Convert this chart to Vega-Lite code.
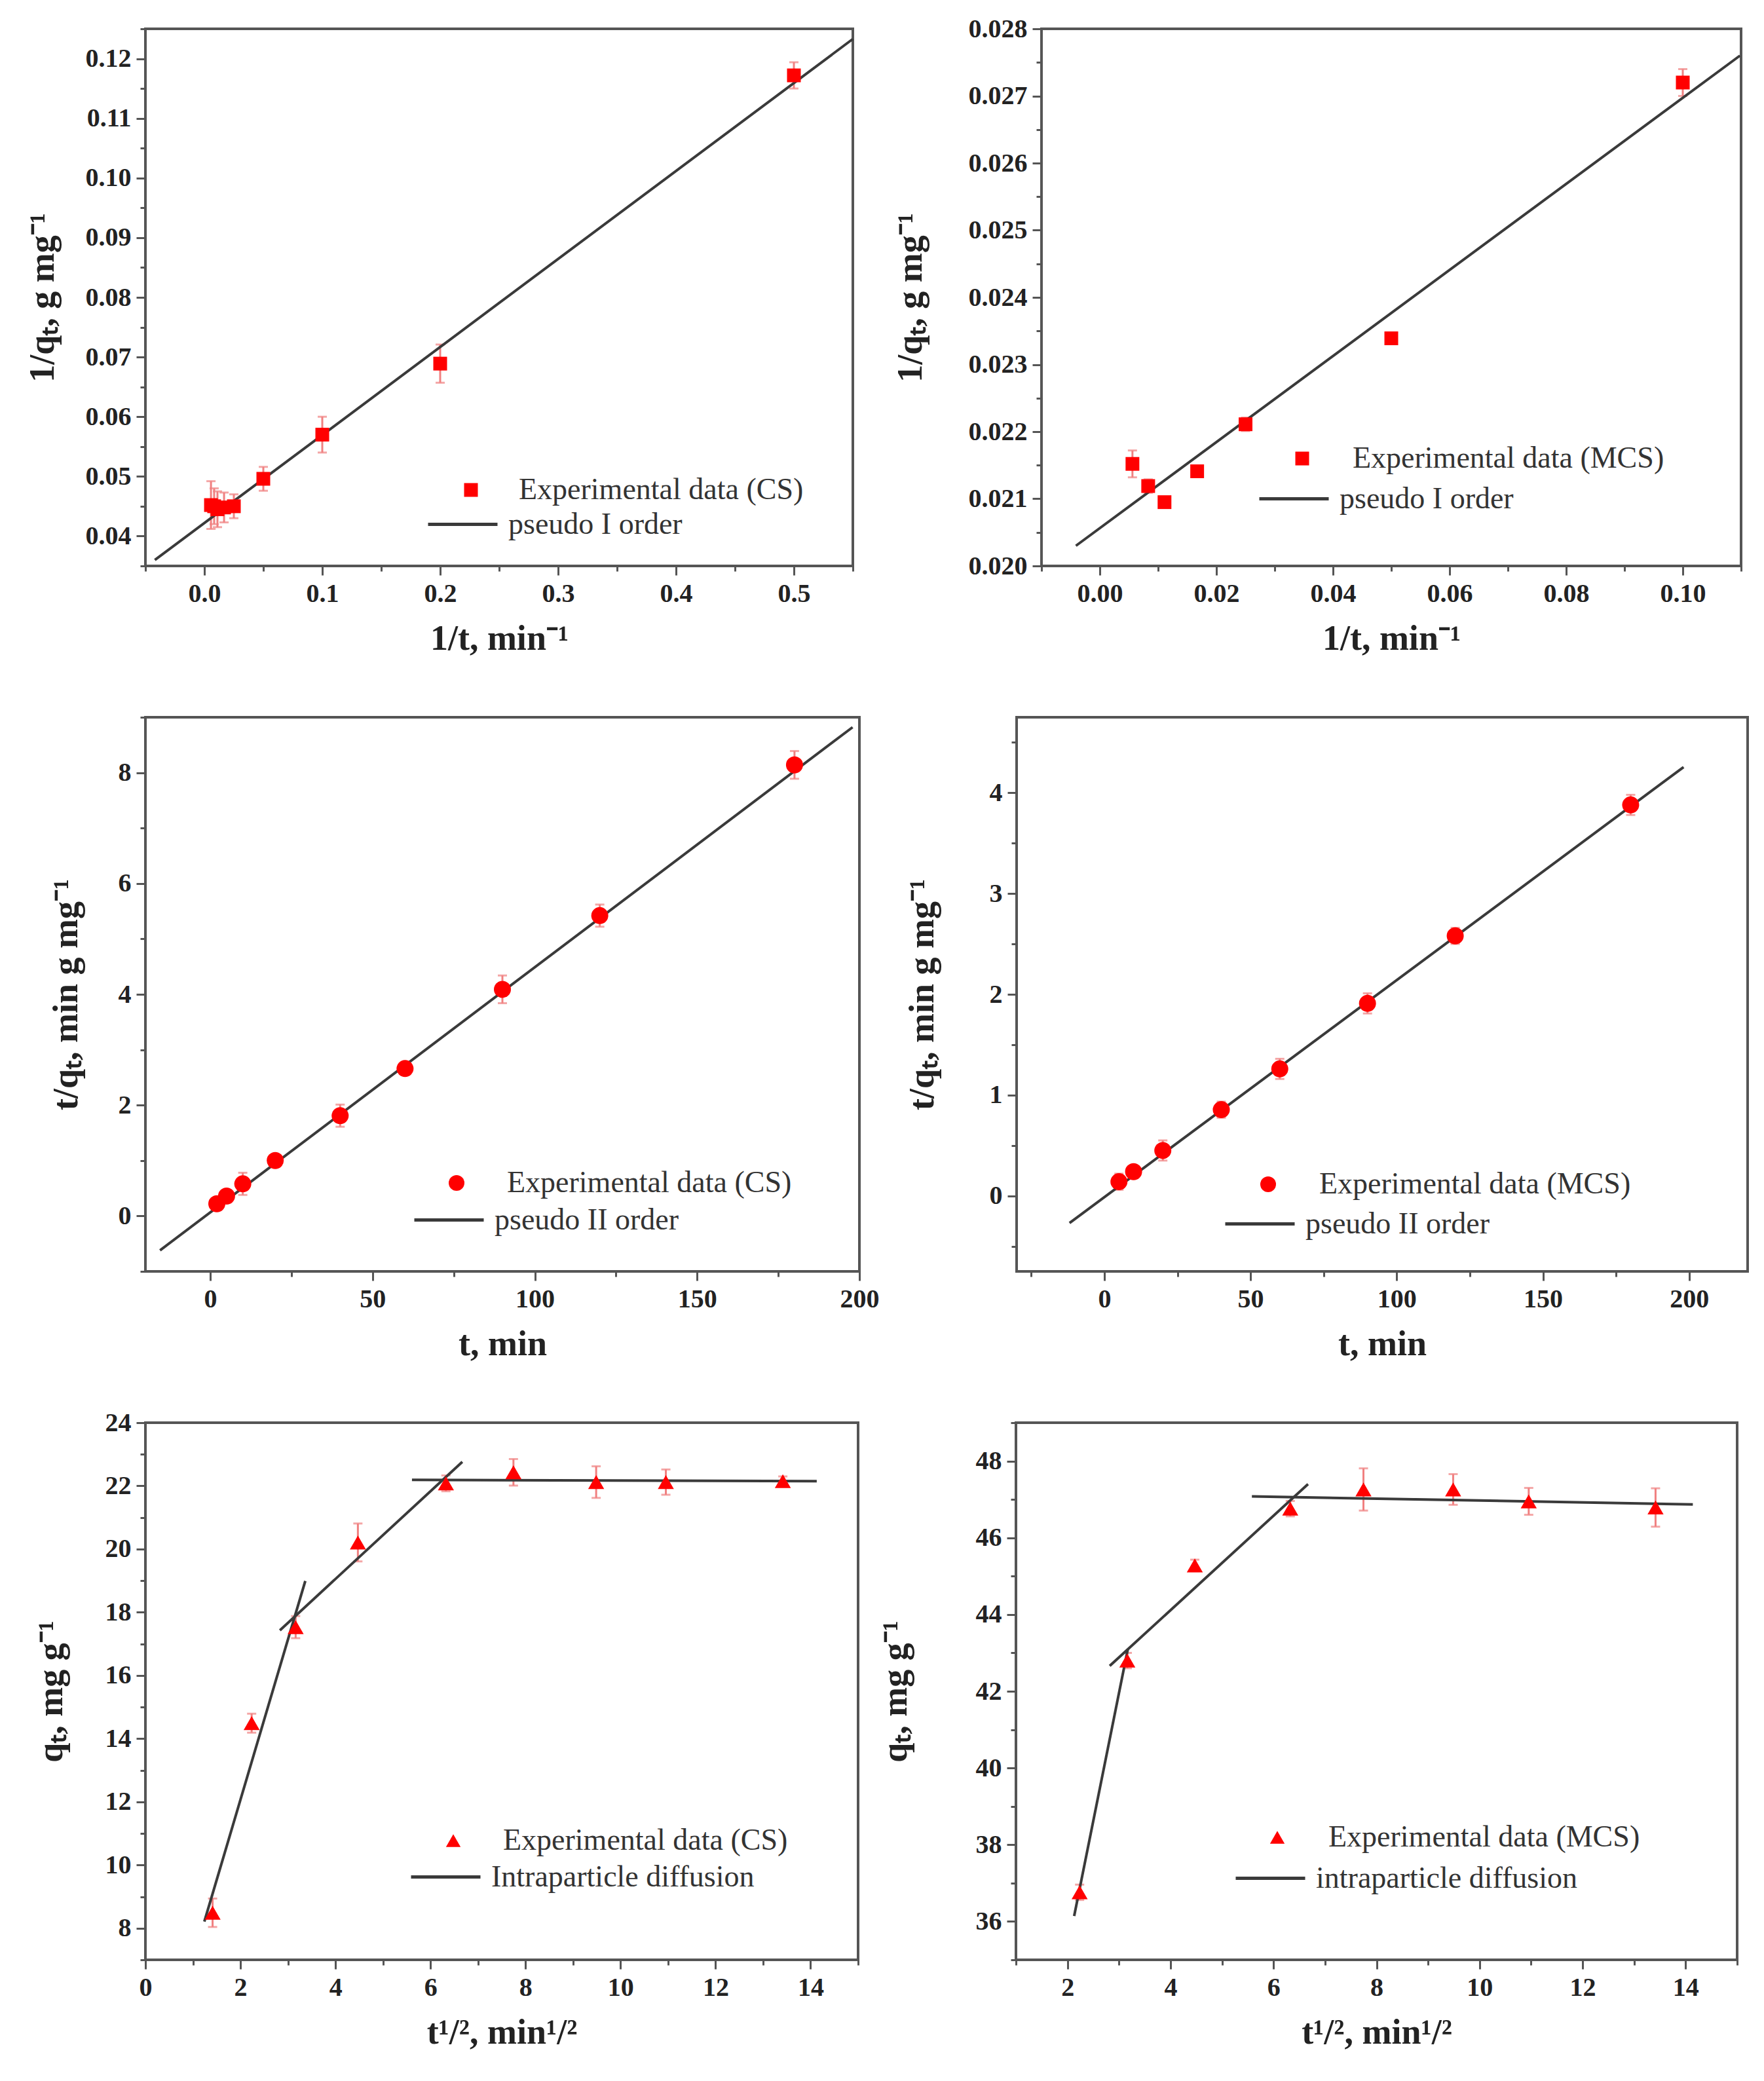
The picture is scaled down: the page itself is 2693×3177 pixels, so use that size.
{
  "$schema": "https://vega.github.io/schema/vega-lite/v6.json",
  "background": "white",
  "padding": {"left": 36, "top": 22, "right": 20, "bottom": 20},
  "config": {
    "view": {"stroke": "#555555", "strokeWidth": 4},
    "axis": {
      "domain": false, "grid": false,
      "labelFont": "Liberation Serif", "labelFontWeight": "bold", "labelFontSize": 40, "labelColor": "#222222",
      "labelFlush": false, "labelOverlap": false, "labelPadding": 8,
      "tickColor": "#555555", "tickWidth": 3,
      "titleFont": "Liberation Serif", "titleFontWeight": "bold", "titleFontSize": 54, "titleColor": "#222222"
    },
    "axisX": {"titlePadding": 22},
    "axisY": {"titlePadding": 38},
    "legend": {
      "orient": "none", "title": null, "padding": 0, "labelLimit": 2000,
      "labelFont": "Liberation Serif", "labelFontSize": 46, "labelColor": "#333333"
    }
  },
  "datasets": {
    "p1pts": [
      {"x": 0.5, "y": 0.1172, "err": 0.0022},
      {"x": 0.2, "y": 0.0689, "err": 0.0032},
      {"x": 0.1, "y": 0.0570, "err": 0.0030},
      {"x": 0.05, "y": 0.0496, "err": 0.0020},
      {"x": 0.025, "y": 0.0450, "err": 0.0020},
      {"x": 0.0167, "y": 0.0448, "err": 0.0025},
      {"x": 0.0111, "y": 0.0445, "err": 0.0030},
      {"x": 0.0083, "y": 0.0450, "err": 0.0030},
      {"x": 0.0056, "y": 0.0452, "err": 0.0040}
    ],
    "p1fit": [
      {"x": -0.042, "y": 0.0360, "seg": "a"},
      {"x": 0.55, "y": 0.1233, "seg": "a"}
    ],
    "p2pts": [
      {"x": 0.1, "y": 0.02720, "err": 0.00020},
      {"x": 0.05, "y": 0.02339, "err": 0.00008},
      {"x": 0.025, "y": 0.02211, "err": 0.00010},
      {"x": 0.0167, "y": 0.02141, "err": 0.00005},
      {"x": 0.0111, "y": 0.02095, "err": 0.00005},
      {"x": 0.0083, "y": 0.02119, "err": 0.00010},
      {"x": 0.0056, "y": 0.02152, "err": 0.00020}
    ],
    "p2fit": [
      {"x": -0.0041, "y": 0.0203, "seg": "a"},
      {"x": 0.1098, "y": 0.0276, "seg": "a"}
    ],
    "p3pts": [
      {"x": 2, "y": 0.22, "err": 0.06},
      {"x": 5, "y": 0.36, "err": 0.06},
      {"x": 10, "y": 0.58, "err": 0.2},
      {"x": 20, "y": 1.0, "err": 0.07},
      {"x": 40, "y": 1.81, "err": 0.2},
      {"x": 60, "y": 2.66, "err": 0.1},
      {"x": 90, "y": 4.09, "err": 0.25},
      {"x": 120, "y": 5.42, "err": 0.2},
      {"x": 180, "y": 8.14, "err": 0.25}
    ],
    "p3fit": [
      {"x": -15.5, "y": -0.62, "seg": "a"},
      {"x": 197.9, "y": 8.82, "seg": "a"}
    ],
    "p4pts": [
      {"x": 5, "y": 0.14, "err": 0.08},
      {"x": 10, "y": 0.24, "err": 0.05},
      {"x": 20, "y": 0.45, "err": 0.1},
      {"x": 40, "y": 0.855, "err": 0.08},
      {"x": 60, "y": 1.26, "err": 0.1},
      {"x": 90, "y": 1.91, "err": 0.1},
      {"x": 120, "y": 2.58, "err": 0.08},
      {"x": 180, "y": 3.88, "err": 0.1}
    ],
    "p4fit": [
      {"x": -11.9, "y": -0.27, "seg": "a"},
      {"x": 198.1, "y": 4.255, "seg": "a"}
    ],
    "p5pts": [
      {"x": 1.414, "y": 8.49, "err": 0.45},
      {"x": 2.236, "y": 14.49, "err": 0.3},
      {"x": 3.162, "y": 17.53, "err": 0.35},
      {"x": 4.472, "y": 20.21, "err": 0.6},
      {"x": 6.325, "y": 22.08, "err": 0.25},
      {"x": 7.746, "y": 22.43, "err": 0.42},
      {"x": 9.487, "y": 22.12, "err": 0.5},
      {"x": 10.954, "y": 22.12, "err": 0.4},
      {"x": 13.416, "y": 22.15, "err": 0.15}
    ],
    "p5fit": [
      {"x": 1.24, "y": 8.21, "seg": "a"},
      {"x": 3.365, "y": 18.99, "seg": "a"},
      {"x": 2.83, "y": 17.43, "seg": "b"},
      {"x": 6.67, "y": 22.76, "seg": "b"},
      {"x": 5.61, "y": 22.19, "seg": "c"},
      {"x": 14.13, "y": 22.15, "seg": "c"}
    ],
    "p6pts": [
      {"x": 2.236, "y": 36.76, "err": 0.2},
      {"x": 3.162, "y": 42.80, "err": 0.2},
      {"x": 4.472, "y": 45.28, "err": 0.15},
      {"x": 6.325, "y": 46.76, "err": 0.2},
      {"x": 7.746, "y": 47.26, "err": 0.55},
      {"x": 9.487, "y": 47.26, "err": 0.4},
      {"x": 10.954, "y": 46.95, "err": 0.35},
      {"x": 13.416, "y": 46.79, "err": 0.5}
    ],
    "p6fit": [
      {"x": 2.13, "y": 36.14, "seg": "a"},
      {"x": 3.17, "y": 43.09, "seg": "a"},
      {"x": 2.82, "y": 42.66, "seg": "b"},
      {"x": 6.67, "y": 47.40, "seg": "b"},
      {"x": 5.58, "y": 47.08, "seg": "c"},
      {"x": 14.14, "y": 46.87, "seg": "c"}
    ]
  },
  "spacing": 69,
  "resolve": {"scale": {"color": "independent", "stroke": "independent", "x": "independent", "y": "independent"}, "legend": {"color": "independent", "stroke": "independent"}},
  "vconcat": [
    {
      "spacing": 49,
      "resolve": {"scale": {"color": "independent", "stroke": "independent", "x": "independent", "y": "independent"}, "legend": {"color": "independent", "stroke": "independent"}},
      "hconcat": [
        {
          "width": 1080, "height": 820,
          "layer": [
            {
              "data": {"name": "p1pts"},
              "mark": {"type": "errorbar", "ticks": {"size": 14, "thickness": 3}, "thickness": 3, "color": "#f08080"},
              "encoding": {
                "x": {"field": "x", "type": "quantitative", "title": "1/t, min⁻¹",
                  "scale": {"domain": [-0.05, 0.55], "nice": false, "zero": false},
                  "axis": {"values": [-0.05, 0, 0.05, 0.1, 0.15, 0.2, 0.25, 0.3, 0.35, 0.4, 0.45, 0.5, 0.55], "format": ".1f",
                    "labelExpr": "round(datum.value*100)%10==0 ? datum.label : ''",
                    "tickSize": {"condition": {"test": "round(datum.value*100)%10==0", "value": 14}, "value": 8}}},
                "y": {"field": "y", "type": "quantitative", "title": "1/qₜ, g mg⁻¹",
                  "scale": {"domain": [0.035, 0.125], "nice": false, "zero": false},
                  "axis": {"values": [0.035, 0.04, 0.045, 0.05, 0.055, 0.06, 0.065, 0.07, 0.075, 0.08, 0.085, 0.09, 0.095, 0.1, 0.105, 0.11, 0.115, 0.12, 0.125], "format": ".2f",
                    "labelExpr": "round(datum.value*1000)%10==0 ? datum.label : ''",
                    "tickSize": {"condition": {"test": "round(datum.value*1000)%10==0", "value": 14}, "value": 8}}},
                "yError": {"field": "err"}
              }
            },
            {
              "data": {"name": "p1fit"},
              "mark": {"type": "line", "strokeWidth": 4},
              "encoding": {
                "x": {"field": "x", "type": "quantitative", "title": "1/t, min⁻¹"},
                "y": {"field": "y", "type": "quantitative", "title": "1/qₜ, g mg⁻¹"},
                "detail": {"field": "seg"},
                "stroke": {"datum": "pseudo I order", "type": "nominal", "scale": {"range": ["#3a3a3a"]},
                  "legend": {"legendX": 429, "legendY": 701, "symbolSize": 11236, "symbolStrokeWidth": 5, "labelOffset": 14}}
              }
            },
            {
              "data": {"name": "p1pts"},
              "mark": {"type": "point", "shape": "square", "filled": true, "size": 441, "opacity": 1},
              "encoding": {
                "x": {"field": "x", "type": "quantitative", "title": "1/t, min⁻¹"},
                "y": {"field": "y", "type": "quantitative", "title": "1/qₜ, g mg⁻¹"},
                "color": {"datum": "Experimental data (CS)", "type": "nominal", "scale": {"range": ["#ff0000"]},
                  "legend": {"legendX": 474, "legendY": 681, "symbolType": "square", "symbolSize": 441, "symbolOpacity": 1, "labelOffset": 50}}
              }
            }
          ]
        },
        {
          "width": 1068, "height": 820,
          "layer": [
            {
              "data": {"name": "p2pts"},
              "mark": {"type": "errorbar", "ticks": {"size": 14, "thickness": 3}, "thickness": 3, "color": "#f08080"},
              "encoding": {
                "x": {"field": "x", "type": "quantitative", "title": "1/t, min⁻¹",
                  "scale": {"domain": [-0.01, 0.11], "nice": false, "zero": false},
                  "axis": {"values": [-0.01, 0, 0.01, 0.02, 0.03, 0.04, 0.05, 0.06, 0.07, 0.08, 0.09, 0.1, 0.11], "format": ".2f",
                    "labelExpr": "round(datum.value*100)%2==0 ? datum.label : ''",
                    "tickSize": {"condition": {"test": "round(datum.value*100)%2==0", "value": 14}, "value": 8}}},
                "y": {"field": "y", "type": "quantitative", "title": "1/qₜ, g mg⁻¹",
                  "scale": {"domain": [0.02, 0.028], "nice": false, "zero": false},
                  "axis": {"values": [0.02, 0.0205, 0.021, 0.0215, 0.022, 0.0225, 0.023, 0.0235, 0.024, 0.0245, 0.025, 0.0255, 0.026, 0.0265, 0.027, 0.0275, 0.028], "format": ".3f", "titlePadding": 61,
                    "labelExpr": "round(datum.value*10000)%10==0 ? datum.label : ''",
                    "tickSize": {"condition": {"test": "round(datum.value*10000)%10==0", "value": 14}, "value": 8}}},
                "yError": {"field": "err"}
              }
            },
            {
              "data": {"name": "p2fit"},
              "mark": {"type": "line", "strokeWidth": 4},
              "encoding": {
                "x": {"field": "x", "type": "quantitative", "title": "1/t, min⁻¹"},
                "y": {"field": "y", "type": "quantitative", "title": "1/qₜ, g mg⁻¹"},
                "detail": {"field": "seg"},
                "stroke": {"datum": "pseudo I order", "type": "nominal", "scale": {"range": ["#3a3a3a"]},
                  "legend": {"legendX": 330, "legendY": 662, "symbolSize": 11236, "symbolStrokeWidth": 5, "labelOffset": 14}}
              }
            },
            {
              "data": {"name": "p2pts"},
              "mark": {"type": "point", "shape": "square", "filled": true, "size": 441, "opacity": 1},
              "encoding": {
                "x": {"field": "x", "type": "quantitative", "title": "1/t, min⁻¹"},
                "y": {"field": "y", "type": "quantitative", "title": "1/qₜ, g mg⁻¹"},
                "color": {"datum": "Experimental data (MCS)", "type": "nominal", "scale": {"range": ["#ff0000"]},
                  "legend": {"legendX": 375, "legendY": 633, "symbolType": "square", "symbolSize": 441, "symbolOpacity": 1, "labelOffset": 54}}
              }
            }
          ]
        }
      ]
    },
    {
      "spacing": 35,
      "resolve": {"scale": {"color": "independent", "stroke": "independent", "x": "independent", "y": "independent"}, "legend": {"color": "independent", "stroke": "independent"}},
      "hconcat": [
        {
          "width": 1090, "height": 846,
          "layer": [
            {
              "data": {"name": "p3pts"},
              "mark": {"type": "errorbar", "ticks": {"size": 14, "thickness": 3}, "thickness": 3, "color": "#f08080"},
              "encoding": {
                "x": {"field": "x", "type": "quantitative", "title": "t, min",
                  "scale": {"domain": [-20, 200], "nice": false, "zero": false},
                  "axis": {"values": [0, 25, 50, 75, 100, 125, 150, 175, 200], "format": "d",
                    "labelExpr": "datum.value%50==0 ? datum.label : ''",
                    "tickSize": {"condition": {"test": "datum.value%50==0", "value": 14}, "value": 8}}},
                "y": {"field": "y", "type": "quantitative", "title": "t/qₜ, min g mg⁻¹",
                  "scale": {"domain": [-1, 9], "nice": false, "zero": false},
                  "axis": {"values": [-1, 0, 1, 2, 3, 4, 5, 6, 7, 8, 9], "format": "d", "titlePadding": 52,
                    "labelExpr": "datum.value%2==0 ? datum.label : ''",
                    "tickSize": {"condition": {"test": "datum.value%2==0", "value": 14}, "value": 8}}},
                "yError": {"field": "err"}
              }
            },
            {
              "data": {"name": "p3fit"},
              "mark": {"type": "line", "strokeWidth": 4},
              "encoding": {
                "x": {"field": "x", "type": "quantitative", "title": "t, min"},
                "y": {"field": "y", "type": "quantitative", "title": "t/qₜ, min g mg⁻¹"},
                "detail": {"field": "seg"},
                "stroke": {"datum": "pseudo II order", "type": "nominal", "scale": {"range": ["#3a3a3a"]},
                  "legend": {"legendX": 408, "legendY": 712, "symbolSize": 11236, "symbolStrokeWidth": 5, "labelOffset": 14}}
              }
            },
            {
              "data": {"name": "p3pts"},
              "mark": {"type": "point", "shape": "circle", "filled": true, "size": 676, "opacity": 1},
              "encoding": {
                "x": {"field": "x", "type": "quantitative", "title": "t, min"},
                "y": {"field": "y", "type": "quantitative", "title": "t/qₜ, min g mg⁻¹"},
                "color": {"datum": "Experimental data (CS)", "type": "nominal", "scale": {"range": ["#ff0000"]},
                  "legend": {"legendX": 452, "legendY": 688, "symbolType": "circle", "symbolSize": 576, "symbolOpacity": 1, "labelOffset": 54}}
              }
            }
          ]
        },
        {
          "width": 1116, "height": 846,
          "layer": [
            {
              "data": {"name": "p4pts"},
              "mark": {"type": "errorbar", "ticks": {"size": 14, "thickness": 3}, "thickness": 3, "color": "#f08080"},
              "encoding": {
                "x": {"field": "x", "type": "quantitative", "title": "t, min",
                  "scale": {"domain": [-30, 220], "nice": false, "zero": false},
                  "axis": {"values": [-25, 0, 25, 50, 75, 100, 125, 150, 175, 200], "format": "d",
                    "labelExpr": "datum.value%50==0 ? datum.label : ''",
                    "tickSize": {"condition": {"test": "datum.value%50==0", "value": 14}, "value": 8}}},
                "y": {"field": "y", "type": "quantitative", "title": "t/qₜ, min g mg⁻¹",
                  "scale": {"domain": [-0.75, 4.75], "nice": false, "zero": false},
                  "axis": {"values": [-0.5, 0, 0.5, 1, 1.5, 2, 2.5, 3, 3.5, 4, 4.5], "titlePadding": 75,
                    "labelExpr": "datum.value%1==0 ? format(datum.value, 'd') : ''",
                    "tickSize": {"condition": {"test": "datum.value%1==0", "value": 14}, "value": 8}}},
                "yError": {"field": "err"}
              }
            },
            {
              "data": {"name": "p4fit"},
              "mark": {"type": "line", "strokeWidth": 4},
              "encoding": {
                "x": {"field": "x", "type": "quantitative", "title": "t, min"},
                "y": {"field": "y", "type": "quantitative", "title": "t/qₜ, min g mg⁻¹"},
                "detail": {"field": "seg"},
                "stroke": {"datum": "pseudo II order", "type": "nominal", "scale": {"range": ["#3a3a3a"]},
                  "legend": {"legendX": 316, "legendY": 718, "symbolSize": 11236, "symbolStrokeWidth": 5, "labelOffset": 14}}
              }
            },
            {
              "data": {"name": "p4pts"},
              "mark": {"type": "point", "shape": "circle", "filled": true, "size": 676, "opacity": 1},
              "encoding": {
                "x": {"field": "x", "type": "quantitative", "title": "t, min"},
                "y": {"field": "y", "type": "quantitative", "title": "t/qₜ, min g mg⁻¹"},
                "color": {"datum": "Experimental data (MCS)", "type": "nominal", "scale": {"range": ["#ff0000"]},
                  "legend": {"legendX": 361, "legendY": 690, "symbolType": "circle", "symbolSize": 576, "symbolOpacity": 1, "labelOffset": 55}}
              }
            }
          ]
        }
      ]
    },
    {
      "spacing": 24,
      "resolve": {"scale": {"color": "independent", "stroke": "independent", "x": "independent", "y": "independent"}, "legend": {"color": "independent", "stroke": "independent"}},
      "hconcat": [
        {
          "width": 1088, "height": 820,
          "layer": [
            {
              "data": {"name": "p5pts"},
              "mark": {"type": "errorbar", "ticks": {"size": 14, "thickness": 3}, "thickness": 3, "color": "#f08080"},
              "encoding": {
                "x": {"field": "x", "type": "quantitative", "title": "t¹/², min¹/²",
                  "scale": {"domain": [0, 15], "nice": false, "zero": false},
                  "axis": {"values": [0, 1, 2, 3, 4, 5, 6, 7, 8, 9, 10, 11, 12, 13, 14, 15], "format": "d",
                    "labelExpr": "datum.value%2==0 ? datum.label : ''",
                    "tickSize": {"condition": {"test": "datum.value%2==0", "value": 14}, "value": 8}}},
                "y": {"field": "y", "type": "quantitative", "title": "qₜ, mg g⁻¹",
                  "scale": {"domain": [7, 24], "nice": false, "zero": false},
                  "axis": {"values": [7, 8, 9, 10, 11, 12, 13, 14, 15, 16, 17, 18, 19, 20, 21, 22, 23, 24], "format": "d", "titlePadding": 55,
                    "labelExpr": "datum.value%2==0 ? datum.label : ''",
                    "tickSize": {"condition": {"test": "datum.value%2==0", "value": 14}, "value": 8}}},
                "yError": {"field": "err"}
              }
            },
            {
              "data": {"name": "p5fit"},
              "mark": {"type": "line", "strokeWidth": 4},
              "encoding": {
                "x": {"field": "x", "type": "quantitative", "title": "t¹/², min¹/²"},
                "y": {"field": "y", "type": "quantitative", "title": "qₜ, mg g⁻¹"},
                "detail": {"field": "seg"},
                "stroke": {"datum": "Intraparticle diffusion", "type": "nominal", "scale": {"range": ["#3a3a3a"]},
                  "legend": {"legendX": 403, "legendY": 638, "symbolSize": 11236, "symbolStrokeWidth": 5, "labelOffset": 14}}
              }
            },
            {
              "data": {"name": "p5pts"},
              "mark": {"type": "point", "shape": "triangle-up", "filled": true, "size": 600, "opacity": 1},
              "encoding": {
                "x": {"field": "x", "type": "quantitative", "title": "t¹/², min¹/²"},
                "y": {"field": "y", "type": "quantitative", "title": "qₜ, mg g⁻¹"},
                "color": {"datum": "Experimental data (CS)", "type": "nominal", "scale": {"range": ["#ff0000"]},
                  "legend": {"legendX": 447, "legendY": 615, "symbolType": "triangle-up", "symbolSize": 500, "symbolOpacity": 1, "labelOffset": 53}}
              }
            }
          ]
        },
        {
          "width": 1101, "height": 820,
          "layer": [
            {
              "data": {"name": "p6pts"},
              "mark": {"type": "errorbar", "ticks": {"size": 14, "thickness": 3}, "thickness": 3, "color": "#f08080"},
              "encoding": {
                "x": {"field": "x", "type": "quantitative", "title": "t¹/², min¹/²",
                  "scale": {"domain": [1, 15], "nice": false, "zero": false},
                  "axis": {"values": [1, 2, 3, 4, 5, 6, 7, 8, 9, 10, 11, 12, 13, 14, 15], "format": "d",
                    "labelExpr": "datum.value%2==0 ? datum.label : ''",
                    "tickSize": {"condition": {"test": "datum.value%2==0", "value": 14}, "value": 8}}},
                "y": {"field": "y", "type": "quantitative", "title": "qₜ, mg g⁻¹",
                  "scale": {"domain": [35, 49], "nice": false, "zero": false},
                  "axis": {"values": [35, 36, 37, 38, 39, 40, 41, 42, 43, 44, 45, 46, 47, 48, 49], "format": "d", "titlePadding": 95,
                    "labelExpr": "datum.value%2==0 ? datum.label : ''",
                    "tickSize": {"condition": {"test": "datum.value%2==0", "value": 14}, "value": 8}}},
                "yError": {"field": "err"}
              }
            },
            {
              "data": {"name": "p6fit"},
              "mark": {"type": "line", "strokeWidth": 4},
              "encoding": {
                "x": {"field": "x", "type": "quantitative", "title": "t¹/², min¹/²"},
                "y": {"field": "y", "type": "quantitative", "title": "qₜ, mg g⁻¹"},
                "detail": {"field": "seg"},
                "stroke": {"datum": "intraparticle diffusion", "type": "nominal", "scale": {"range": ["#3a3a3a"]},
                  "legend": {"legendX": 333, "legendY": 640, "symbolSize": 11236, "symbolStrokeWidth": 5, "labelOffset": 14}}
              }
            },
            {
              "data": {"name": "p6pts"},
              "mark": {"type": "point", "shape": "triangle-up", "filled": true, "size": 600, "opacity": 1},
              "encoding": {
                "x": {"field": "x", "type": "quantitative", "title": "t¹/², min¹/²"},
                "y": {"field": "y", "type": "quantitative", "title": "qₜ, mg g⁻¹"},
                "color": {"datum": "Experimental data (MCS)", "type": "nominal", "scale": {"range": ["#ff0000"]},
                  "legend": {"legendX": 376, "legendY": 610, "symbolType": "triangle-up", "symbolSize": 500, "symbolOpacity": 1, "labelOffset": 55}}
              }
            }
          ]
        }
      ]
    }
  ]
}
